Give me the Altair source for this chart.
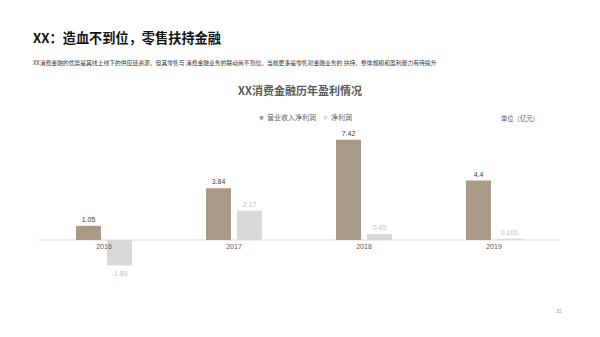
import altair as alt
import pandas as pd

years = ["2016", "2017", "2018", "2019"]
revenue = [1.05, 3.84, 7.42, 4.4]
profit = [-1.89, 2.17, 0.45, 0.101]
series_names = ["营业收入净利润", "净利润"]
series_colors = ["#a99a88", "#d9d9d9"]

title_text = "XX：造血不到位，零售扶持金融"
subtitle_text = ("XX消费金融的优势是其线上线下的供应链资源，但其零售与 消费金融业务的联动尚不到位，"
                 "当前更多是零售对金融业务的 扶持，整体规模和盈利能力有待提升")
chart_title = "XX消费金融历年盈利情况"
unit_text = "单位（亿元）"
page_no = "32"

FONT = "Noto Sans CJK SC"
NUM_FONT = "Liberation Sans"

rev_df = pd.DataFrame({"year": years, "value": revenue, "series": series_names[0],
                       "label": [str(v) for v in revenue]})
pro_df = pd.DataFrame({"year": years, "value": profit, "series": series_names[1],
                       "label": [str(v) for v in profit]})

x_scale = alt.Scale(domain=years, paddingInner=0, paddingOuter=0.3077)
y_scale = alt.Scale(domain=[-7.185, 17.778], nice=False, zero=False)
color_scale = alt.Scale(domain=series_names, range=series_colors)

legend = alt.Legend(title=None, orient="none", legendX=258, legendY=114,
                    direction="horizontal", symbolType="square",
                    symbolSize=12, symbolStrokeWidth=0,
                    labelFont=FONT, labelFontSize=7, labelColor="#595959",
                    columnPadding=6, labelOffset=2)

SHIFT = -1
L_OFF = -15.5 + SHIFT
R_OFF = 15.5 + SHIFT


def x_enc():
    return alt.X("year:N", axis=None, title=None, scale=x_scale)


def y_enc(field="value:Q"):
    return alt.Y(field, axis=None, title=None, scale=y_scale)


rev_bars = alt.Chart(rev_df).mark_bar(width=25, xOffset=L_OFF).encode(
    x=x_enc(), y=y_enc(), y2=alt.datum(0),
    color=alt.Color("series:N", scale=color_scale, legend=legend))
pro_bars = alt.Chart(pro_df).mark_bar(width=25, xOffset=R_OFF).encode(
    x=x_enc(), y=y_enc(), y2=alt.datum(0),
    color=alt.Color("series:N", scale=color_scale, legend=legend))

rev_labels = alt.Chart(rev_df).mark_text(
    baseline="bottom", dx=L_OFF, dy=-3, font=NUM_FONT, fontSize=7, color="#404040"
).encode(x=x_enc(), y=y_enc(), text="label:N")

pro_pos_labels = alt.Chart(pro_df).transform_filter("datum.value >= 0").mark_text(
    baseline="bottom", dx=R_OFF, dy=-3, font=NUM_FONT, fontSize=7, color="#bfbfbf"
).encode(x=x_enc(), y=y_enc(), text="label:N")

pro_neg_labels = alt.Chart(pro_df).transform_filter("datum.value < 0").mark_text(
    baseline="top", dx=R_OFF, dy=4, font=NUM_FONT, fontSize=7, color="#bfbfbf"
).encode(x=x_enc(), y=y_enc(), text="label:N")

zero_df = pd.DataFrame({"year": years, "z": [0] * len(years)})

baseline_rule = alt.Chart(zero_df.head(1)).mark_rule(
    color="#d9d9d9", strokeWidth=1
).encode(x=alt.value(39), x2=alt.value(560), y=y_enc("z:Q"))

year_labels = alt.Chart(zero_df).mark_text(
    baseline="middle", dx=SHIFT, dy=7, font=NUM_FONT, fontSize=7, color="#595959"
).encode(x=x_enc(), y=y_enc("z:Q"), text="year:N")


def text_layer(t, x, y, size, color, weight="normal", align="left", font=FONT):
    return alt.Chart(pd.DataFrame({"t": [t]})).mark_text(
        font=font, fontSize=size, color=color, fontWeight=weight,
        align=align, baseline="middle"
    ).encode(text="t:N", x=alt.value(x), y=alt.value(y))


title = text_layer(title_text, 33, 39, 13.2, "#111111", "bold")
subtitle = text_layer(subtitle_text, 33, 62.5, 5.8, "#333333")
ctitle = text_layer(chart_title, 300, 91.5, 11, "#595959", "bold", "center")
unit = text_layer(unit_text, 501, 119, 6.3, "#595959")
page = text_layer(page_no, 559, 311, 5, "#999999", "normal", "center", NUM_FONT)

chart = alt.layer(
    baseline_rule, rev_bars, pro_bars, rev_labels, pro_pos_labels, pro_neg_labels,
    year_labels, title, subtitle, ctitle, unit, page
).properties(
    width=600, height=337, autosize=alt.AutoSizeParams(type="none"), padding=0,
    background="white"
).configure_view(stroke=None)

chart.save("out.html", embed_options={"renderer": "svg", "actions": False})
